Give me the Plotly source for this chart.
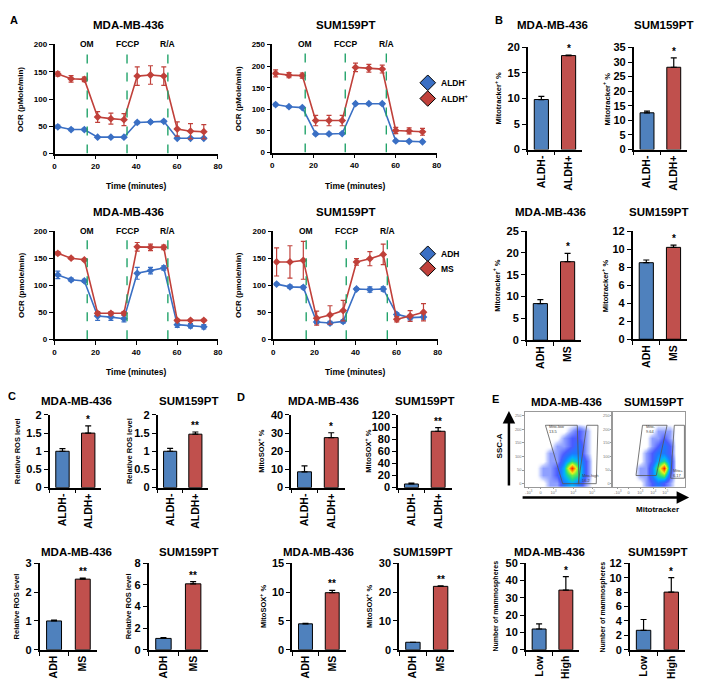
import plotly.graph_objects as go

W, H = 704, 699
OFF = 8                       # default page margin of the html body
FW, FH = W - OFF, H - OFF     # figure size so that the page does not overflow
FONT = "Arial, Liberation Sans, sans-serif"
BLUE_L, RED_L = "#3a6fc4", "#c0403a"
BLUE_B, RED_B = "#4f81bd", "#c0504d"
GREEN = "#22a36a"

# ---------------- data ----------------
time_min = [1.6, 8.1, 14.6, 21.1, 27.6, 34.0, 40.5, 47.0, 53.5, 60.1, 66.6, 73.1]
inject_time = [16, 35.5, 55.5]
inject_labels = ["OM", "FCCP", "R/A"]

mda_aldh_neg = [49, 44, 44, 30, 30, 30, 57, 58, 59, 28, 28, 28]
mda_aldh_neg_err = [3, 2, 2, 1, 1, 1, 2, 2, 2, 1, 1, 1]
mda_aldh_pos = [146, 137, 136, 67, 64, 62, 142, 144, 142, 45, 41, 40]
mda_aldh_pos_err = [4, 6, 4, 10, 10, 11, 17, 17, 17, 13, 14, 13]

sum_aldh_neg = [111, 106, 104, 43, 43, 44, 113, 113, 113, 27, 26, 25]
sum_aldh_neg_err = [3, 2, 2, 2, 2, 2, 2, 2, 2, 2, 2, 2]
sum_aldh_pos = [183, 179, 178, 74, 74, 74, 197, 195, 193, 51, 50, 48]
sum_aldh_pos_err = [8, 6, 6, 12, 12, 12, 10, 9, 9, 7, 7, 8]

mda_adh = [119, 110, 108, 43, 41, 38, 122, 127, 132, 27, 25, 23]
mda_adh_err = [7, 3, 3, 8, 6, 6, 11, 6, 4, 5, 4, 4]
mda_ms = [159, 150, 147, 48, 48, 48, 171, 170, 170, 35, 35, 35]
mda_ms_err = [3, 2, 2, 3, 3, 3, 8, 6, 4, 2, 2, 2]

sum_adh = [102, 97, 96, 32, 30, 33, 93, 92, 93, 46, 40, 41]
sum_adh_err = [2, 3, 3, 3, 3, 3, 2, 5, 4, 3, 4, 4]
sum_ms = [143, 143, 146, 39, 45, 53, 143, 149, 157, 37, 43, 50]
sum_ms_err = [26, 30, 35, 13, 17, 19, 6, 13, 19, 5, 10, 16]

cats_aldh = ["ALDH-", "ALDH+"]
cats_ms = ["ADH", "MS"]
cats_mito = ["Low", "High"]

mito_mda_aldh = [9.8, 18.4];   mito_mda_aldh_err = [0.6, 0.1]
mito_sum_aldh = [12.6, 28.2];  mito_sum_aldh_err = [0.6, 3.2]
mito_mda_ms = [8.4, 18.0];     mito_mda_ms_err = [0.9, 1.9]
mito_sum_ms = [8.5, 10.2];     mito_sum_ms_err = [0.3, 0.25]

ros_mda_aldh = [1.0, 1.5];     ros_mda_aldh_err = [0.07, 0.2]
ros_sum_aldh = [1.0, 1.47];    ros_sum_aldh_err = [0.08, 0.06]
ros_mda_ms = [1.0, 2.45];      ros_mda_ms_err = [0.03, 0.04]
ros_sum_ms = [1.05, 6.1];      ros_sum_ms_err = [0.08, 0.2]

sox_mda_aldh = [8.7, 27.5];    sox_mda_aldh_err = [3.3, 2.7]
sox_sum_aldh = [6.0, 93.0];    sox_sum_aldh_err = [1.5, 6.0]
sox_mda_ms = [4.5, 9.9];       sox_mda_ms_err = [0.1, 0.4]
sox_sum_ms = [2.6, 22.0];      sox_sum_ms_err = [0.0, 0.2]

sph_mda = [12.0, 34.5];        sph_mda_err = [3.0, 7.8]
sph_sum = [2.7, 8.0];          sph_sum_err = [1.5, 2.0]

# flow cytometry density (coarse grid), rows bottom -> top
flow_x = [4.2, 12.5, 20.8, 29.2, 37.5, 45.8, 54.2, 62.5, 70.8, 79.2, 87.5, 95.8]
flow_y = [2.8, 30.3, 57.8, 85.3, 112.8, 140.3, 167.8, 195.3, 222.8, 250.3]
flow_mda = [
    [0, 0, 0, 1, 1, 3, 4, 3, 1, 0, 0, 0],
    [0, 0, 1, 1, 2, 4, 6, 5, 2, 0, 0, 0],
    [0, 0, 1, 1, 2, 4, 10, 5, 2, 0, 0, 0],
    [0, 0, 0, 1, 1, 3, 5, 4, 2, 0, 0, 0],
    [0, 0, 0, 1, 1, 2, 3, 3, 1, 0, 0, 0],
    [0, 0, 0, 0, 1, 1, 2, 3, 1, 0, 0, 0],
    [0, 0, 0, 0, 0, 1, 2, 2, 1, 0, 0, 0],
    [0, 0, 0, 0, 0, 0, 1, 2, 1, 0, 0, 0],
    [0, 0, 0, 0, 0, 0, 0, 0, 0, 0, 0, 0],
    [0, 0, 0, 0, 0, 0, 0, 0, 0, 0, 0, 0],
]
flow_sum = [
    [0, 0, 0, 0, 0, 1, 2, 3, 2, 1, 0, 0],
    [0, 0, 0, 0, 1, 1, 3, 5, 6, 2, 0, 0],
    [0, 0, 0, 0, 1, 1, 3, 6, 10, 3, 0, 0],
    [0, 0, 0, 0, 0, 1, 2, 4, 5, 3, 0, 0],
    [0, 0, 0, 0, 0, 1, 2, 3, 3, 2, 0, 0],
    [0, 0, 0, 0, 0, 0, 1, 2, 3, 2, 0, 0],
    [0, 0, 0, 0, 0, 0, 1, 1, 2, 1, 0, 0],
    [0, 0, 0, 0, 0, 0, 0, 1, 1, 1, 0, 0],
    [0, 0, 0, 0, 0, 0, 0, 0, 0, 0, 0, 0],
    [0, 0, 0, 0, 0, 0, 0, 0, 0, 0, 0, 0],
]
flow_yticks = [0, 50, 100, 150, 200, 250]
flow_xtick_text = ["-10<sup>3</sup>", "0", "10<sup>3</sup>", "10<sup>4</sup>", "10<sup>5</sup>"]
gate_mda_low_x = [24, 61, 63, 44, 24];  gate_mda_low_y = [215, 215, 0, 0, 215]
gate_mda_high_x = [72, 85, 83, 62, 72]; gate_mda_high_y = [215, 215, 0, 0, 215]
gate_sum_low_x = [41, 75, 60, 32, 41];  gate_sum_low_y = [215, 215, 30, 30, 215]
gate_sum_high_x = [85, 99, 99, 80, 85]; gate_sum_high_y = [215, 215, 20, 20, 215]

# ---------------- helpers ----------------
fig = go.Figure()
layout = {}
annotations = []
shapes = []
counter = [0]


def px(x):
    return (x - OFF) / FW


def py(y):
    return 1 - (y - OFF) / FH


def new_axes(x0, x1, ytop, ybot):
    counter[0] += 1
    n = counter[0]
    xk = "xaxis" if n == 1 else f"xaxis{n}"
    yk = "yaxis" if n == 1 else f"yaxis{n}"
    xr = "x" if n == 1 else f"x{n}"
    yr = "y" if n == 1 else f"y{n}"
    layout[xk] = dict(domain=[max(0, px(x0)), min(1, px(x1))], anchor=yr)
    layout[yk] = dict(domain=[max(0, py(ybot)), min(1, py(ytop))], anchor=xr)
    return xk, yk, xr, yr


def ann(x, y, text, size, bold=True, angle=0, xanchor="center", yanchor="middle", color="black"):
    annotations.append(dict(
        x=px(x), y=py(y), xref="paper", yref="paper", text=text, showarrow=False,
        textangle=angle, xanchor=xanchor, yanchor=yanchor,
        font=dict(size=size, family=FONT, color=color, weight="bold" if bold else "normal")))


def axis_style(size):
    return dict(showline=True, linecolor="black", linewidth=1.5, ticks="outside", ticklen=4,
                tickcolor="black", tickwidth=1.2, showgrid=False, zeroline=False,
                tickfont=dict(size=size, family=FONT, color="black", weight="bold"))


def line_panel(x0, x1, ytop, ybot, ymax, s1, e1, s2, e2, title, tx, ty, ytitle, ytx, xtitle_y):
    xk, yk, xr, yr = new_axes(x0, x1, ytop, ybot)
    for s, e, c in ((s1, e1, BLUE_L), (s2, e2, RED_L)):
        fig.add_trace(go.Scatter(
            x=time_min, y=s, mode="lines+markers", xaxis=xr, yaxis=yr, showlegend=False,
            line=dict(color=c, width=1.6), marker=dict(symbol="diamond", size=6, color=c),
            error_y=dict(type="data", array=e, color=c, thickness=1.2, width=2.5)))
    for t, lab in zip(inject_time, inject_labels):
        shapes.append(dict(type="line", xref=xr, yref=yr, x0=t, x1=t, y0=0, y1=ymax * 0.95,
                           line=dict(color=GREEN, width=1.4, dash="dash")))
        annotations.append(dict(x=t, y=ymax, xref=xr, yref=yr, text=lab, showarrow=False,
                                font=dict(size=8.5, family=FONT, color="black", weight="bold")))
    layout[xk].update(axis_style(8), range=[0, 80], tickvals=[0, 20, 40, 60, 80])
    layout[yk].update(axis_style(8), range=[0, ymax], dtick=50)
    ann(tx, ty, title, 11.5)
    ann(ytx, (ytop + ybot) / 2, ytitle, 8, angle=-90)
    ann((x0 + x1) / 2, xtitle_y, "Time (minutes)", 8.5)


def bar_panel(x0, x1, ytop, ybot, ymax, dtick, cats, vals, errs, star, title, tx, ty,
              ytitle, ytx, ysize=7.5):
    xk, yk, xr, yr = new_axes(x0, x1, ytop, ybot)
    fig.add_trace(go.Bar(
        x=cats, y=vals, xaxis=xr, yaxis=yr, width=0.52, showlegend=False,
        marker=dict(color=[BLUE_B, RED_B], line=dict(color="black", width=1)),
        error_y=dict(type="data", symmetric=False, array=errs, arrayminus=[0, 0],
                     color="black", thickness=1.2, width=3)))
    layout[xk].update(axis_style(10.5), type="category", range=[-0.5, 1.5],
                      tickson="boundaries", tickangle=-90)
    layout[yk].update(axis_style(11), range=[0, ymax], dtick=dtick)
    annotations.append(dict(x=cats[1], y=vals[1] + errs[1], xref=xr, yref=yr, text=star,
                            showarrow=False, yanchor="bottom", yshift=-1,
                            font=dict(size=10, family=FONT, color="black", weight="bold")))
    ann(tx, ty, title, 11.5)
    ann(ytx, (ytop + ybot) / 2, ytitle, ysize, angle=-90)


def flow_panel(x0, x1, ytop, ybot, z, gl_x, gl_y, gh_x, gh_y, tickpos, low_txt, high_txt,
               low_pos, high_pos):
    xk, yk, xr, yr = new_axes(x0, x1, ytop, ybot)
    fig.add_trace(go.Heatmap(
        x=flow_x, y=flow_y, z=z, xaxis=xr, yaxis=yr, zsmooth="best", showscale=False,
        zmin=0, zmax=10, hoverinfo="skip",
        colorscale=[[0, "rgba(255,255,255,0)"], [0.05, "rgba(170,185,255,0.6)"],
                    [0.1, "#8fa0ff"], [0.2, "#4a5cff"], [0.3, "#1e78ff"], [0.4, "#00b0ff"],
                    [0.5, "#20d890"], [0.6, "#70f040"], [0.72, "#f0f020"],
                    [0.85, "#ff9000"], [1, "#ff1a00"]]))
    for gx, gy in ((gl_x, gl_y), (gh_x, gh_y)):
        fig.add_trace(go.Scatter(x=gx, y=gy, mode="lines", xaxis=xr, yaxis=yr,
                                 showlegend=False, hoverinfo="skip",
                                 line=dict(color="#555555", width=0.8)))
    gray = dict(showline=True, linecolor="#999999", linewidth=0.8, mirror=True, ticks="outside",
                ticklen=1.5, tickcolor="#999999", showgrid=False, zeroline=False,
                tickfont=dict(size=4, family=FONT, color="#777777"))
    layout[xk].update(gray, range=[0, 100], tickvals=tickpos, ticktext=flow_xtick_text)
    layout[yk].update(gray, range=[-11, 264], tickvals=flow_yticks,
                      ticktext=[str(v) for v in flow_yticks])
    annotations.append(dict(x=low_pos[0], y=low_pos[1], xref=xr, yref=yr, text=low_txt,
                            showarrow=False, align="left", xanchor="left",
                            font=dict(size=4, family=FONT, color="#444444")))
    annotations.append(dict(x=high_pos[0], y=high_pos[1], xref=xr, yref=yr, text=high_txt,
                            showarrow=False, align="left", xanchor="left",
                            font=dict(size=4, family=FONT, color="#444444")))


# ---------------- panel A ----------------
line_panel(53, 218, 39, 150, 200, mda_aldh_neg, mda_aldh_neg_err, mda_aldh_pos, mda_aldh_pos_err,
           "MDA-MB-436", 128, 19, "OCR (pMole/min)", 19, 183)
line_panel(273, 439, 39, 149, 250, sum_aldh_neg, sum_aldh_neg_err, sum_aldh_pos, sum_aldh_pos_err,
           "SUM159PT", 347, 19, "OCR (pMole/min)", 239, 183)
line_panel(53, 218, 229, 339, 200, mda_adh, mda_adh_err, mda_ms, mda_ms_err,
           "MDA-MB-436", 128, 210, "OCR (pmole/min)", 19, 372)
line_panel(274, 440, 229, 339, 200, sum_adh, sum_adh_err, sum_ms, sum_ms_err,
           "SUM159PT", 347, 210, "OCR (pmole/min)", 239, 372)

# ---------------- panel B ----------------
bar_panel(531, 586, 42, 146, 20, 5, cats_aldh, mito_mda_aldh, mito_mda_aldh_err, "*",
          "MDA-MB-436", 556, 19, "Mitotracker<sup>+</sup> %", 500)
bar_panel(638, 692, 42, 146, 35, 5, cats_aldh, mito_sum_aldh, mito_sum_aldh_err, "*",
          "SUM159PT", 668, 19, "Mitotracker<sup>+</sup> %", 610)
bar_panel(530, 585, 229, 340, 25, 5, cats_ms, mito_mda_ms, mito_mda_ms_err, "*",
          "MDA-MB-436", 554, 210, "Mitotracker<sup>+</sup> %", 499)
bar_panel(637, 692, 229, 339, 12, 2, cats_ms, mito_sum_ms, mito_sum_ms_err, "*",
          "SUM159PT", 663, 210, "Mitotracker<sup>+</sup> %", 609)

# ---------------- panel C ----------------
bar_panel(48, 100, 416, 490, 2, 0.5, cats_aldh, ros_mda_aldh, ros_mda_aldh_err, "*",
          "MDA-MB-436", 75, 402, "Relative ROS level", 15)
bar_panel(157, 208, 416, 490, 2, 0.5, cats_aldh, ros_sum_aldh, ros_sum_aldh_err, "**",
          "SUM159PT", 188, 402, "Relative ROS level", 128)
bar_panel(38, 96, 567, 655, 3, 1, cats_ms, ros_mda_ms, ros_mda_ms_err, "**",
          "MDA-MB-436", 75, 555, "Relative ROS level", 15)
bar_panel(148, 208, 567, 655, 8, 2, cats_ms, ros_sum_ms, ros_sum_ms_err, "**",
          "SUM159PT", 188, 555, "Relative ROS level", 128)

# ---------------- panel D ----------------
bar_panel(292, 346, 416, 490, 40, 10, cats_aldh, sox_mda_aldh, sox_mda_aldh_err, "*",
          "MDA-MB-436", 325, 402, "MitoSOX<sup>+</sup> %", 262)
bar_panel(400, 454, 416, 490, 120, 20, cats_aldh, sox_sum_aldh, sox_sum_aldh_err, "**",
          "SUM159PT", 427, 402, "MitoSOX<sup>+</sup> %", 370)
bar_panel(293, 347, 567, 655, 15, 5, cats_ms, sox_mda_ms, sox_mda_ms_err, "**",
          "MDA-MB-436", 320, 555, "MitoSOX<sup>+</sup> %", 263)
bar_panel(401, 457, 567, 655, 30, 10, cats_ms, sox_sum_ms, sox_sum_ms_err, "**",
          "SUM159PT", 425, 555, "MitoSOX<sup>+</sup> %", 370)

# ---------------- panel E ----------------
flow_panel(528, 615, 413, 489, flow_mda, gate_mda_low_x, gate_mda_low_y,
           gate_mda_high_x, gate_mda_high_y, [4.6, 18.4, 33.3, 56.3, 78.2],
           "Mito-low<br>13.5", "Mito-high<br>16.2", (26, 200), (64, 20))
flow_panel(617, 690, 413, 489, flow_sum, gate_sum_low_x, gate_sum_low_y,
           gate_sum_high_x, gate_sum_high_y, [6.8, 21.9, 38, 56, 72.6],
           "Mito-<br>9.64", "Mito+<br>6.17", (43, 200), (81, 40))
ann(570, 403, "MDA-MB-436", 11.5)
ann(658, 403, "SUM159PT", 11.5)
ann(502, 448, "SSC-A", 8, angle=-90)
ann(662, 512, "Mitotracker", 8)
annotations.append(dict(x=px(512), y=py(412), xref="paper", yref="paper", ax=0, ay=76,
                        axref="pixel", ayref="pixel", showarrow=True, arrowhead=2,
                        arrowsize=1, arrowwidth=2.5, arrowcolor="black", text=""))
annotations.append(dict(x=px(694), y=py(500), xref="paper", yref="paper", ax=-168, ay=0,
                        axref="pixel", ayref="pixel", showarrow=True, arrowhead=2,
                        arrowsize=1, arrowwidth=2.5, arrowcolor="black", text=""))

bar_panel(529, 583, 567, 655, 50, 10, cats_mito, sph_mda, sph_mda_err, "*",
          "MDA-MB-436", 553, 555, "Number of mammospheres", 498, ysize=7)
bar_panel(634, 690, 567, 655, 12, 2, cats_mito, sph_sum, sph_sum_err, "*",
          "SUM159PT", 662, 555, "Number of mammospheres", 607, ysize=7)

# ---------------- legends for A (overlay axis in pixel units) ----------------
xk, yk, xr, yr = new_axes(OFF, W, OFF, H)
layout[xk].update(range=[OFF, W], visible=False)
layout[yk].update(range=[H, OFF], visible=False)
leg_x = [430, 430]
for (ys, cols, labs) in (([78, 94], [BLUE_L, RED_L], ["ALDH<sup>-</sup>", "ALDH<sup>+</sup>"]),
                         ([252, 267], [BLUE_L, RED_L], ["ADH", "MS"])):
    fig.add_trace(go.Scatter(x=leg_x, y=ys, mode="markers", xaxis=xr, yaxis=yr, showlegend=False,
                             hoverinfo="skip",
                             marker=dict(symbol="diamond", size=12, color=cols,
                                         line=dict(color="black", width=1))))
    for yy, lab in zip(ys, labs):
        ann(441, yy, lab, 8.5, xanchor="left")

# panel letters
for lx, ly, lt in ((12, 14, "A"), (502, 14, "B"), (10, 397, "C"), (241, 398, "D"), (498, 400, "E")):
    ann(lx, ly, lt, 11)

fig.update_layout(width=FW, height=FH, margin=dict(l=0, r=0, t=0, b=0),
                  paper_bgcolor="white", plot_bgcolor="rgba(0,0,0,0)",
                  annotations=annotations, shapes=shapes, showlegend=False,
                  font=dict(family=FONT), **layout)
fig.write_html("out.html")
